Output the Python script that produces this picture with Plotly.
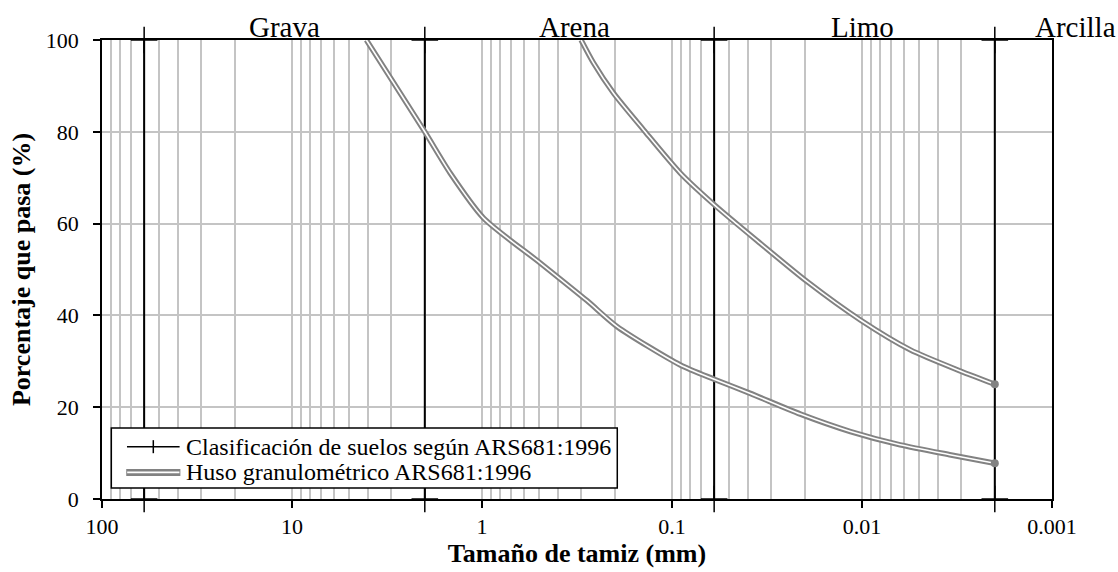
import plotly.graph_objects as go

# ---- data ----
boundaries_mm = [60, 2, 0.06, 0.002]
zone_labels = ["Grava", "Arena", "Limo", "Arcilla"]

coarse_mm = [4.06, 2.0, 1.47, 0.981, 0.493, 0.28, 0.195, 0.0904, 0.06, 0.0387, 0.0211, 0.0115, 0.0063, 0.0034, 0.002]
coarse_pct = [100, 80, 71.0, 61.2, 51.4, 43.2, 37.6, 29.2, 26.1, 23.0, 18.5, 14.7, 11.8, 9.6, 7.8]

fine_mm = [0.301, 0.259, 0.203, 0.141, 0.0904, 0.0599, 0.0343, 0.0195, 0.0102, 0.00557, 0.00304, 0.002]
fine_pct = [100, 95.0, 88.4, 80.4, 71.0, 64.1, 55.7, 47.4, 39.0, 32.5, 27.9, 25.0]

x_tickvals = [100, 10, 1, 0.1, 0.01, 0.001]
x_ticktext = ["100", "10", "1", "0.1", "0.01", "0.001"]
y_tickvals = [0, 20, 40, 60, 80, 100]

legend_names = ["Clasificación de suelos según ARS681:1996", "Huso granulométrico ARS681:1996"]

FONT = "Liberation Serif, Times New Roman, serif"
GRAY = "#828282"
GRID = "#c4c4c4"

fig = go.Figure()

# classification boundaries (vertical lines with + markers)
bx, by = [], []
for b in boundaries_mm:
    bx += [b, b, None]
    by += [0, 100, None]
fig.add_trace(go.Scatter(
    x=bx, y=by, mode="lines+markers", name=legend_names[0], showlegend=False,
    line=dict(color="black", width=2),
    marker=dict(symbol="cross-thin", size=19, color="black",
                line=dict(color="black", width=1.5)),
    cliponaxis=False,
))

# grading envelope (double line: gray with white core)
for xs, ys in [(coarse_mm, coarse_pct), (fine_mm, fine_pct)]:
    fig.add_trace(go.Scatter(
        x=xs, y=ys, mode="lines", name=legend_names[1], showlegend=False,
        line=dict(color=GRAY, width=5.5, shape="spline", smoothing=0.7),
    ))
    fig.add_trace(go.Scatter(
        x=xs, y=ys, mode="lines", showlegend=False, hoverinfo="skip",
        line=dict(color="white", width=1.6, shape="spline", smoothing=0.7),
    ))

fig.add_trace(go.Scatter(
    x=[coarse_mm[-1], fine_mm[-1]], y=[coarse_pct[-1], fine_pct[-1]],
    mode="markers", showlegend=False,
    marker=dict(color=GRAY, size=8),
))

# zone labels
label_pos = [0.1917, 0.4972, 0.8003, 1.025]
for txt, px in zip(zone_labels, label_pos):
    fig.add_annotation(text=txt, x=px, xref="paper", y=1.0, yref="paper",
                       yanchor="bottom", xanchor="center", showarrow=False,
                       yshift=-5, font=dict(family=FONT, size=29, color="black"))

# custom legend (box, symbols, texts)
LX0, LX1, LY0, LY1 = 0.0098, 0.5424, 0.024, 0.1548
ROW = [0.1140, 0.0580]
shapes = [dict(type="rect", xref="paper", yref="paper", x0=LX0, x1=LX1, y0=LY0, y1=LY1,
               line=dict(color="black", width=1.5), fillcolor="white", layer="above")]
# row 1: black line with +
shapes.append(dict(type="line", xref="paper", yref="paper", x0=0.0263, x1=0.0817,
                   y0=ROW[0], y1=ROW[0], line=dict(color="black", width=1.5), layer="above"))
shapes.append(dict(type="line", xref="paper", yref="paper", x0=0.054, x1=0.054,
                   y0=ROW[0] - 0.0142, y1=ROW[0] + 0.0142, line=dict(color="black", width=1.5), layer="above"))
# row 2: double gray line
shapes.append(dict(type="line", xref="paper", yref="paper", x0=0.0255, x1=0.0825,
                   y0=ROW[1], y1=ROW[1], line=dict(color=GRAY, width=7), layer="above"))
shapes.append(dict(type="line", xref="paper", yref="paper", x0=0.0265, x1=0.0815,
                   y0=ROW[1], y1=ROW[1], line=dict(color="white", width=1.6), layer="above"))
for name, ry in zip(legend_names, ROW):
    fig.add_annotation(text=name, x=0.0866, xref="paper", y=ry, yref="paper",
                       xanchor="left", yanchor="middle", showarrow=False,
                       font=dict(family=FONT, size=24, color="black"))

fig.update_layout(
    width=1118, height=572, autosize=False,
    margin=dict(l=102, r=66, t=40, b=73),
    paper_bgcolor="white", plot_bgcolor="white",
    font=dict(family=FONT, size=22, color="black"),
    showlegend=False,
    shapes=shapes,
    xaxis=dict(
        type="log", range=[2, -3], automargin=False,
        title=dict(text="<b>Tamaño de tamiz (mm)</b>", font=dict(family=FONT, size=26), standoff=6),
        tickmode="array", tickvals=x_tickvals, ticktext=x_ticktext,
        ticks="outside", ticklen=7, tickwidth=1.5, tickcolor="black",
        showline=True, linecolor="black", linewidth=1.5, mirror=True,
        showgrid=True, gridcolor=GRID, gridwidth=1.5,
        minor=dict(dtick="D1", showgrid=True, gridcolor=GRID, gridwidth=1.5, ticks=""),
        zeroline=False, ticklabelstandoff=0,
    ),
    yaxis=dict(
        range=[0, 100], automargin=False,
        title=dict(text="<b>Porcentaje que pasa (%)</b>", font=dict(family=FONT, size=26), standoff=8),
        tickmode="array", tickvals=y_tickvals,
        ticks="outside", ticklen=7, tickwidth=1.5, tickcolor="black",
        showline=True, linecolor="black", linewidth=1.5, mirror=True,
        showgrid=True, gridcolor=GRID, gridwidth=1.5,
        zeroline=False, ticklabelstandoff=10,
    ),
)

fig.write_html("out.html", config={"displayModeBar": False},
               post_script="document.body.style.margin='0px';")
